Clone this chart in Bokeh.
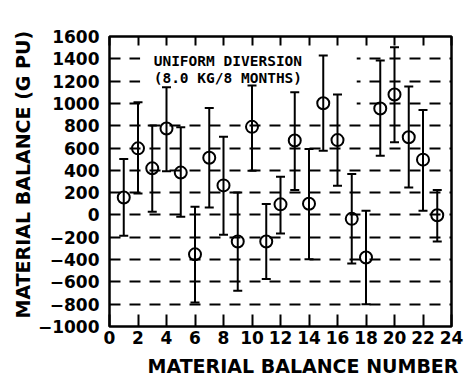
from bokeh.plotting import figure
from bokeh.models import LinearAxis, FixedTicker, Range1d, Title
from bokeh.core.properties import value
from bokeh.embed import file_html
from bokeh.resources import INLINE

# ---- data ----
balance_number = [1, 2, 3, 4, 5, 6, 7, 8, 9, 10, 11, 12, 13, 14, 15, 16, 17, 18, 19, 20, 21, 22, 23]
material_balance = [157, 597, 418, 775, 380, -353, 513, 265, -238, 790, -238, 95,
                    667, 100, 1002, 671, -35, -381, 955, 1080, 697, 496, -3]
lower_limit = [-187, 193, 29, 391, -16, -785, 67, -178, -680, 397, -575, -166,
               223, -396, 576, 262, -435, -800, 531, 651, 247, 38, -238]
upper_limit = [502, 1010, 801, 1145, 786, 74, 960, 702, 202, 1160, 98, 343,
               1100, 591, 1429, 1079, 367, 38, 1384, 1504, 1151, 942, 224]

x_ticks = [0, 2, 4, 6, 8, 10, 12, 14, 16, 18, 20, 22, 24]
y_ticks = [-1000, -800, -600, -400, -200, 0, 200, 400, 600, 800, 1000, 1200, 1400, 1600]
note_lines = ["UNIFORM DIVERSION", "(8.0 KG/8 MONTHS)"]
x_title = "MATERIAL BALANCE NUMBER"
y_title = "MATERIAL BALANCE (G PU)"

FONT = "DejaVu Sans"

p = figure(width=464, height=384, x_range=Range1d(0, 24), y_range=Range1d(-1000, 1600),
           output_backend="svg", toolbar_location=None,
           min_border_left=109, min_border_right=13, min_border_top=36, min_border_bottom=58)
p.background_fill_color = "white"
p.border_fill_color = "white"
p.outline_line_color = "black"
p.outline_line_width = 2.5

# axes
for ax in (p.xaxis[0], p.yaxis[0]):
    ax.axis_line_color = None
    ax.minor_tick_line_color = None
    ax.major_tick_line_color = "black"
    ax.major_tick_line_width = 2
    ax.major_label_text_font = FONT
    ax.major_label_text_font_style = "bold"
    ax.major_label_text_font_size = "17px"
    ax.major_label_text_color = "black"

p.xaxis.ticker = FixedTicker(ticks=x_ticks)
p.xaxis.major_tick_in = 12
p.xaxis.major_tick_out = 0
p.xaxis.major_label_standoff = 4

p.yaxis.ticker = FixedTicker(ticks=y_ticks)
p.yaxis.major_tick_in = 0
p.yaxis.major_tick_out = 0
p.yaxis.major_label_standoff = 10

top_axis = LinearAxis(ticker=FixedTicker(ticks=x_ticks), axis_line_color=None,
                      minor_tick_line_color=None, major_tick_in=9, major_tick_out=0,
                      major_tick_line_width=2, major_label_text_color=None,
                      major_label_text_font_size="1px", major_label_standoff=0)
p.add_layout(top_axis, "above")

# grid
p.xgrid.visible = False
p.ygrid.ticker = FixedTicker(ticks=y_ticks)
p.ygrid.grid_line_color = "black"
p.ygrid.grid_line_width = 2
p.ygrid.grid_line_dash = "11 9"

# white area behind the note (grid interrupted there)
p.quad(left=[2.15], right=[17.35], bottom=[920], top=[1580], fill_color="white", line_color=None)

# error bars
p.segment(x0=balance_number, y0=lower_limit, x1=balance_number, y1=upper_limit,
          line_color="black", line_width=2)
p.scatter(x=balance_number + balance_number, y=lower_limit + upper_limit, marker="dash",
          size=9, line_color="black", line_width=2)
# points
p.scatter(x=balance_number, y=material_balance, marker="circle", size=12,
          fill_color=None, line_color="black", line_width=2)

# note
p.text(x=[3.1, 3.1], y=[1384, 1232], text=note_lines, text_font=value("DejaVu Sans Mono"),
       text_font_style="bold", text_font_size="14.5px", text_align="left",
       text_baseline="middle", text_color="black")

# axis titles (as side-panel titles so they can be offset like the reference)
p.add_layout(Title(text=x_title, align="left", offset=38, standoff=12, text_font=FONT,
                   text_font_style="bold", text_font_size="19px", text_color="black"), "below")
p.add_layout(Title(text=y_title, align="left", offset=8, standoff=2, text_font=FONT,
                   text_font_style="bold", text_font_size="19px", text_color="black"), "left")

open("out.html", "w").write(file_html(p, INLINE))
